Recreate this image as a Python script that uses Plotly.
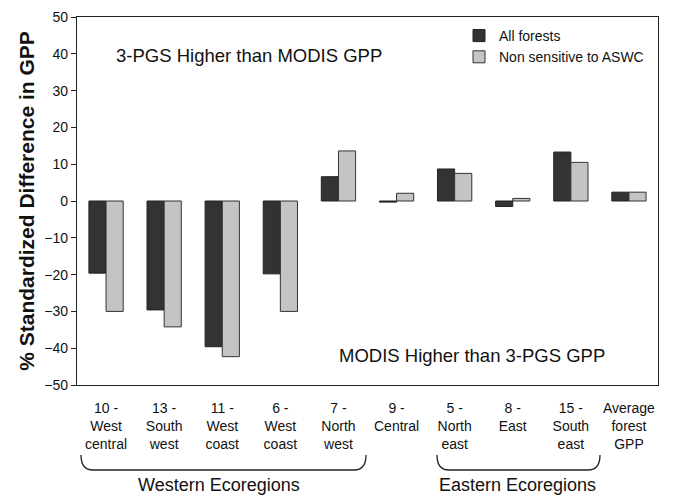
import plotly.graph_objects as go

categories = ["10 -<br>West<br>central", "13 -<br>South<br>west", "11 -<br>West<br>coast",
              "6 -<br>West<br>coast", "7 -<br>North<br>west", "9 -<br>Central",
              "5 -<br>North<br>east", "8 -<br>East", "15 -<br>South<br>east",
              "Average<br>forest<br>GPP"]
all_forests = [-19.6, -29.6, -39.6, -19.8, 6.6, -0.3, 8.7, -1.5, 13.3, 2.4]
non_sensitive = [-30.0, -34.2, -42.3, -30.0, 13.6, 2.1, 7.5, 0.7, 10.5, 2.4]

W, H = 676, 497
L, R, T, B = 77, 18, 17, 112
pw, ph = W - L - R, H - T - B

def px(x):
    return (x - L) / pw

def py(y):
    return 1 - (y - T) / ph

FONT = "Liberation Sans, Arial, sans-serif"

fig = go.Figure()
fig.add_trace(go.Bar(x=categories, y=all_forests, name="All forests",
                     marker=dict(color="#333333", line=dict(color="#222222", width=1))))
fig.add_trace(go.Bar(x=categories, y=non_sensitive, name="Non sensitive to ASWC",
                     marker=dict(color="#c4c4c4", line=dict(color="#333333", width=1))))

def brace(x0, x1, ytop, ybot, r=12):
    return (f"M {px(x0)},{py(ytop)} Q {px(x0)},{py(ybot)} {px(x0 + r)},{py(ybot)} "
            f"L {px(x1 - r)},{py(ybot)} Q {px(x1)},{py(ybot)} {px(x1)},{py(ytop)}")

shapes = [
    dict(type="path", xref="paper", yref="paper", path=brace(81, 366, 455, 470),
         line=dict(color="#222222", width=1.3)),
    dict(type="path", xref="paper", yref="paper", path=brace(437, 600, 455, 470),
         line=dict(color="#222222", width=1.3)),
]

def ann(text, x, y, size=18.5):
    return dict(text=text, x=px(x), y=py(y), xref="paper", yref="paper",
                xanchor="center", yanchor="middle", showarrow=False,
                font=dict(size=size, color="#111111", family=FONT))

annotations = [
    ann("3-PGS Higher than MODIS GPP", 249, 55),
    ann("MODIS Higher than 3-PGS GPP", 472, 355),
    ann("Western Ecoregions", 219, 485, 18),
    ann("Eastern Ecoregions", 517, 485, 18),
]

fig.update_layout(
    width=W, height=H,
    margin=dict(l=L, r=R, t=T, b=B, pad=0, autoexpand=False),
    paper_bgcolor="white", plot_bgcolor="white",
    font=dict(family=FONT, color="#111111", size=14),
    barmode="group", bargap=0.41, bargroupgap=0,
    showlegend=True,
    legend=dict(x=px(459), y=py(20), xanchor="left", yanchor="top",
                font=dict(size=14, family=FONT), bgcolor="rgba(0,0,0,0)",
                tracegroupgap=0, itemwidth=30),
    xaxis=dict(type="category", showline=True, linecolor="#222222", linewidth=1.3,
               mirror=True, ticks="", showgrid=False, tickfont=dict(size=14),
               range=[-0.5, 9.5], ticklabelstandoff=10),
    xaxis2=dict(overlaying="x", anchor="free", position=0.5, side="bottom",
                type="linear", range=[-0.5, 9.5], tickvals=[0.5 + i for i in range(9)],
                ticks="outside", ticklen=4, tickcolor="#222222", tickwidth=1,
                showticklabels=False, showline=True, linecolor="#222222", linewidth=1.3,
                showgrid=False, zeroline=False),
    yaxis=dict(range=[-50, 50], dtick=10, tick0=0, showline=True, linecolor="#222222",
               linewidth=1.3, mirror=True, ticks="outside", ticklen=5, tickcolor="#222222",
               showgrid=False, zeroline=False, tickfont=dict(size=14),
               title=dict(text="<b>% Standardized Difference in GPP</b>",
                          font=dict(size=21, family=FONT), standoff=3)),
    shapes=shapes,
    annotations=annotations,
)
fig.write_html("out.html", config={"displayModeBar": False},
               post_script="document.body.style.margin='0';document.body.style.padding='0';")
